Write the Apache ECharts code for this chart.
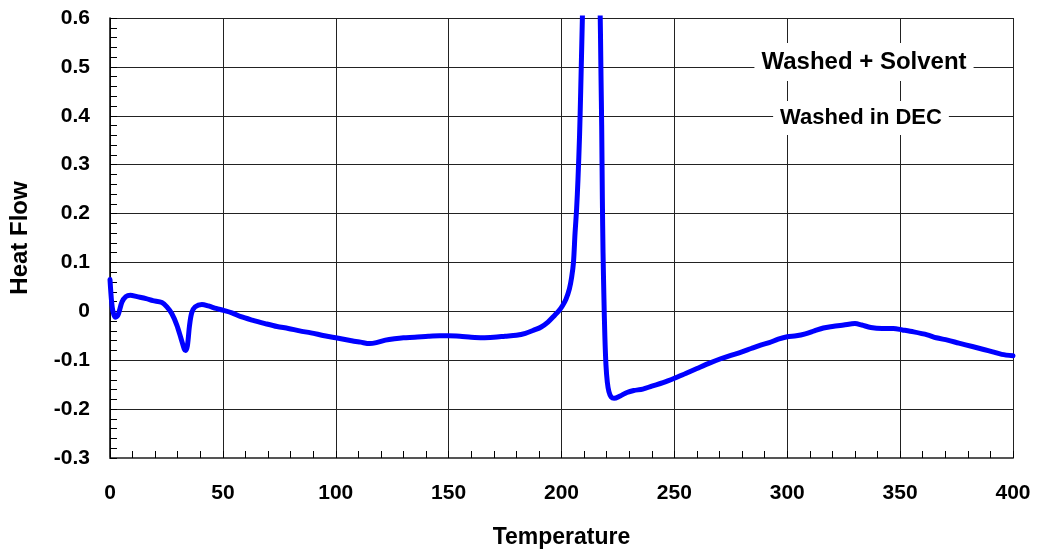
<!DOCTYPE html>
<html>
<head>
<meta charset="utf-8">
<script src="https://cdn.jsdelivr.net/npm/echarts@6/dist/echarts.min.js"></script>
<style>
html,body{margin:0;padding:0;background:#fff;}
#chart{width:1039px;height:554px;}
</style>
</head>
<body>
<div id="chart"></div>
<script>
// Temperature values (x)
const temperature = [0,0.7,1.3,2.3,3.5,5.3,7,9,12,16,19,23,25.2,27.4,29.6,31.5,32.9,33.5,34.3,35.2,36.2,37.7,40.7,43.6,47,50.3,54,58,63,68.7,74,79,84,89,95,100,107,111,115,118,122,126,130,135,141,146,150,155,160,165,170,175,180,184,188,191,194,197,199,200.5,202,203.5,204.5,205.3,206,206.7,207.3,208,208.5,209,209.5,210.5,212,214,216,217,217.5,217.8,218.1,218.4,218.8,219.2,219.7,220.3,221,222,223.3,226,229,232,236,240,245,250,255,260,265,270.5,275,279.3,284,288.2,292,296,300,304,308,312,316,320,325,330,333,337,342,347,351,356,362,366,371,376,382,387,391,395,400];
// Heat flow values (y)
const heatFlow = [0.065,0.02,0.0,-0.012,-0.008,0.019,0.03,0.033,0.03,0.026,0.022,0.018,0.009,-0.005,-0.028,-0.056,-0.077,-0.080,-0.070,-0.030,-0.003,0.009,0.014,0.011,0.006,0.002,-0.003,-0.011,-0.018,-0.025,-0.031,-0.035,-0.040,-0.044,-0.050,-0.054,-0.060,-0.063,-0.066,-0.064,-0.059,-0.056,-0.054,-0.053,-0.051,-0.050,-0.050,-0.051,-0.053,-0.054,-0.053,-0.051,-0.049,-0.045,-0.038,-0.032,-0.022,-0.008,0.002,0.012,0.025,0.046,0.07,0.10,0.16,0.21,0.27,0.36,0.45,0.55,0.65,0.85,1.0,1.0,0.85,0.65,0.48,0.38,0.23,0.12,0.026,-0.05,-0.11,-0.145,-0.164,-0.175,-0.178,-0.173,-0.166,-0.162,-0.159,-0.153,-0.146,-0.137,-0.127,-0.117,-0.107,-0.097,-0.090,-0.084,-0.076,-0.069,-0.064,-0.057,-0.052,-0.050,-0.046,-0.040,-0.034,-0.031,-0.028,-0.025,-0.028,-0.033,-0.035,-0.035,-0.038,-0.042,-0.048,-0.054,-0.059,-0.065,-0.072,-0.078,-0.083,-0.088,-0.091];
const annotations = ['Washed + Solvent', 'Washed in DEC'];
const xTitle = 'Temperature';
const yTitle = 'Heat Flow';

const chart = echarts.init(document.getElementById('chart'), null, {renderer:'canvas'});
const FONT = '"Liberation Sans", Arial, sans-serif';
const pts = temperature.map((t,i)=>[t,heatFlow[i]]);

chart.setOption({
  animation:false,
  backgroundColor:'#fff',
  grid:{left:108,right:26,top:18,bottom:94,containLabel:false},
  xAxis:{
    type:'value',min:0,max:400,interval:50,
    name:xTitle,nameLocation:'middle',nameGap:68,
    nameTextStyle:{fontFamily:FONT,fontWeight:'bold',fontSize:23,color:'#000'},
    axisLine:{show:true,onZero:false,lineStyle:{color:'#555',width:2}},
    axisTick:{show:true,inside:true,length:7,lineStyle:{color:'#000'}},
    minorTick:{show:true,splitNumber:5,length:7,lineStyle:{color:'#000'}},
    axisLabel:{fontFamily:FONT,fontWeight:'bold',fontSize:21,color:'#000',margin:25},
    splitLine:{show:true,lineStyle:{color:'#222',width:1}}
  },
  yAxis:{
    type:'value',min:-0.3,max:0.6,interval:0.1,
    name:yTitle,nameLocation:'middle',nameGap:78,
    nameTextStyle:{fontFamily:FONT,fontWeight:'bold',fontSize:24,color:'#000'},
    axisLine:{show:true,onZero:false,lineStyle:{color:'#000',width:1.5}},
    axisTick:{show:true,inside:true,length:7,lineStyle:{color:'#000'}},
    minorTick:{show:true,splitNumber:5,length:7,lineStyle:{color:'#000'}},
    axisLabel:{fontFamily:FONT,fontWeight:'bold',fontSize:21,color:'#000',margin:20,
      formatter:v=>{const r=Math.round(v*10)/10;return r===0?'0':r.toFixed(1);}},
    splitLine:{show:true,lineStyle:{color:'#222',width:1}}
  },
  series:[{
    type:'line',data:pts,showSymbol:false,smooth:0.3,clip:true,
    lineStyle:{color:'#0000ff',width:5,join:'round',cap:'round'},z:5
  }],
  graphic:[
    {type:'text',z:100,x:864,y:62,style:{text:annotations[0],align:'center',verticalAlign:'middle',
      font:'bold 24px '+FONT,fill:'#000',backgroundColor:'#fff',padding:[7,7,7,7]}},
    {type:'text',z:100,x:861,y:118,style:{text:annotations[1],align:'center',verticalAlign:'middle',
      font:'bold 22px '+FONT,fill:'#000',backgroundColor:'#fff',padding:[6,7,6,7]}}
  ]
});
</script>
</body>
</html>
